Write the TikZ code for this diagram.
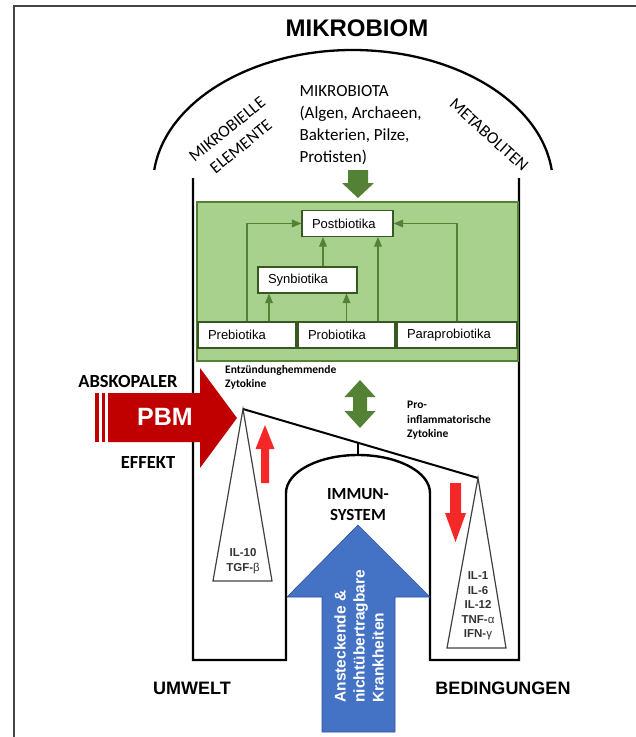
\documentclass[tikz,border=0pt]{standalone}
\usepackage{fontspec}
\setmainfont{Liberation Sans}
\newfontfamily\calfont{Carlito}
\usepackage{tikz}
\usetikzlibrary{arrows}
\usetikzlibrary{positioning}
\definecolor{darkgreen}{HTML}{548235}
\definecolor{lightgreen}{HTML}{A9D18E}
\definecolor{boxgreen}{HTML}{385723}
\definecolor{pbmred}{HTML}{C00000}
\definecolor{brightred}{HTML}{F52828}
\definecolor{blueup}{HTML}{4472C4}
\definecolor{bluerim}{HTML}{2F4F9A}
\definecolor{framegray}{HTML}{444444}

\begin{document}
\begin{tikzpicture}[x=1pt,y=-1pt,>=triangle 45,
    wall/.style={line width=2.4pt,black},
    bio node/.style={draw=boxgreen,fill=white,line width=1.2pt,inner xsep=10pt,inner ysep=0pt,
      minimum height=26pt,text width=#1,align=left,font=\fontsize{13}{15}\selectfont},
    link/.style={->,draw=darkgreen,line width=1.2pt},
    big label/.style={font=\bfseries\fontsize{18}{20}\selectfont},
    cal label/.style={font=\calfont\fontsize{17}{22}\selectfont,align=left},
    cyto label/.style={font=\calfont\bfseries\fontsize{11.5}{14.5}\selectfont,align=left,inner sep=0pt},
    il label/.style={font=\bfseries\fontsize{11.5}{14.5}\selectfont,text=black!80,align=center,inner sep=0pt},
    cone/.style={draw=black!75,line width=1.2pt}]
  \useasboundingbox (0,0) rectangle (636,737);
  % frame
  \draw[framegray,line width=2pt] (636,6) -- (14,6) -- (14,737);
  \node[font=\bfseries\fontsize{24}{26}\selectfont] (title) at (357,28) {MIKROBIOM};
  % dome and walls
  \draw[line width=2.3pt] (353,185) ++(186.4:200 and 135) arc[start angle=186.4,end angle=353.6,x radius=200,y radius=135];
  \draw[wall] (193,178) -- (193,660) -- (286,660) -- (286,493)
    arc[start angle=180,end angle=360,x radius=72,y radius=38] -- (430,660) -- (519,660) -- (519,178);
  \node[cal label] (biota) at (296,82) [anchor=north west] {MIKROBIOTA\\(Algen, Archaeen,\\Bakterien, Pilze,\\Protisten)};
  \node[cal label,align=center,rotate=39] (elements) at (234,138) {MIKROBIELLE\\ELEMENTE};
  \node[cal label,rotate=-42] (metabolites) at (489,135) {METABOLITEN};
  \fill[darkgreen] (348,170) -- (368,170) -- (368,183) -- (374,183) -- (358,198) -- (342,183) -- (348,183) -- cycle;
  % green box
  \draw[fill=lightgreen,draw=darkgreen,line width=1.5pt] (197,202) rectangle (518,361);
  \node[bio node=71pt] (post) at (347.5,223.5) {Postbiotika};
  \node[bio node=79pt] (syn) at (307.5,280) {Synbiotika};
  \node[bio node=78pt] (pre) at (247,335) {Prebiotika};
  \node[bio node=77pt] (pro) at (346.5,335) {Probiotika};
  \node[bio node=100pt] (para) at (457,335) {Paraprobiotika};
  \draw[link] (pre.north) |- (post.west);
  \draw[link] ([xshift=22pt]pre.north) -- ([xshift=22pt]pre.north |- syn.south);
  \draw[link] (pro.north) -- (pro.north |- syn.south);
  \draw[link] ([xshift=15.5pt]syn.north) -- ([xshift=15.5pt]syn.north |- post.south);
  \draw[link] ([xshift=31.5pt]pro.north) -- ([xshift=31.5pt]pro.north |- post.south);
  \draw[link] (para.north) |- (post.east);
  % cytokines
  \fill[darkgreen] (360,380) -- (375.5,397) -- (367,397) -- (367,411) -- (375.5,411) -- (360,428)
    -- (344.5,411) -- (353,411) -- (353,397) -- (344.5,397) -- cycle;
  \node[cyto label,anchor=north west] (anti) at (225,365) {Entzündunghemmende\\Zytokine};
  \node[cyto label,anchor=north west] (proinf) at (407,401) {Pro-\\inflammatorische\\Zytokine};
  % PBM arrow
  \fill[pbmred] (108,393) -- (200,393) -- (200,368) -- (237,418) -- (200,468) -- (200,442) -- (108,442) -- cycle;
  \fill[pbmred] (95,393) rectangle (98.5,442);
  \fill[pbmred] (101.5,393) rectangle (105,442);
  \node[font=\bfseries\fontsize{25}{27}\selectfont,text=white] (pbm) at (165,417) {PBM};
  \node[big label,font=\calfont\bfseries\fontsize{18.5}{20}\selectfont] (absk) at (128,381) {ABSKOPALER};
  \node[big label,font=\calfont\bfseries\fontsize{18.5}{20}\selectfont] (effekt) at (148,462) {EFFEKT};
  % balance
  \coordinate (left tip) at (243,409);
  \coordinate (right tip) at (478,478);
  \draw[line width=2pt] (left tip) -- (right tip);
  \draw[line width=2pt] (358,443) -- (358,455);
  \draw[cone] (left tip) -- (213,581) -- (272,581) -- cycle;
  \draw[cone] (right tip) -- (447,648) -- (506,648) -- cycle;
  \node[il label] (anticyto) at (243,561) {IL-10\\TGF-{\normalfont β}};
  \node[il label] (procyto) at (478,606) {IL-1\\IL-6\\IL-12\\TNF-{\normalfont α}\\IFN-{\normalfont γ}};
  \fill[brightred] (265,425) -- (274.5,449) -- (269,449) -- (269,483) -- (261,483) -- (261,449) -- (255.5,449) -- cycle;
  \fill[brightred] (450,483) -- (461,483) -- (461,513) -- (466,513) -- (455.5,542) -- (445,513) -- (450,513) -- cycle;
  \node[font=\calfont\bfseries\fontsize{17}{21}\selectfont,align=center] (immun) at (358,505) {IMMUN-\\SYSTEM};
  % diseases
  \draw[fill=blueup,draw=bluerim,line width=0.6pt] (322,732) -- (322,597) -- (287,597) -- (358,525) -- (430,597)
    -- (395,597) -- (395,732) -- cycle;
  \node[rotate=90,anchor=west,align=left,text=white,font=\bfseries\fontsize{15.5}{19}\selectfont] (disease) at (359,706)
    {Ansteckende \&\\nichtübertragbare\\Krankheiten};
  \node[big label] (umwelt) at (192,688) {UMWELT};
  \node[big label] (bed) at (503,688) {BEDINGUNGEN};
\end{tikzpicture}
\end{document}
